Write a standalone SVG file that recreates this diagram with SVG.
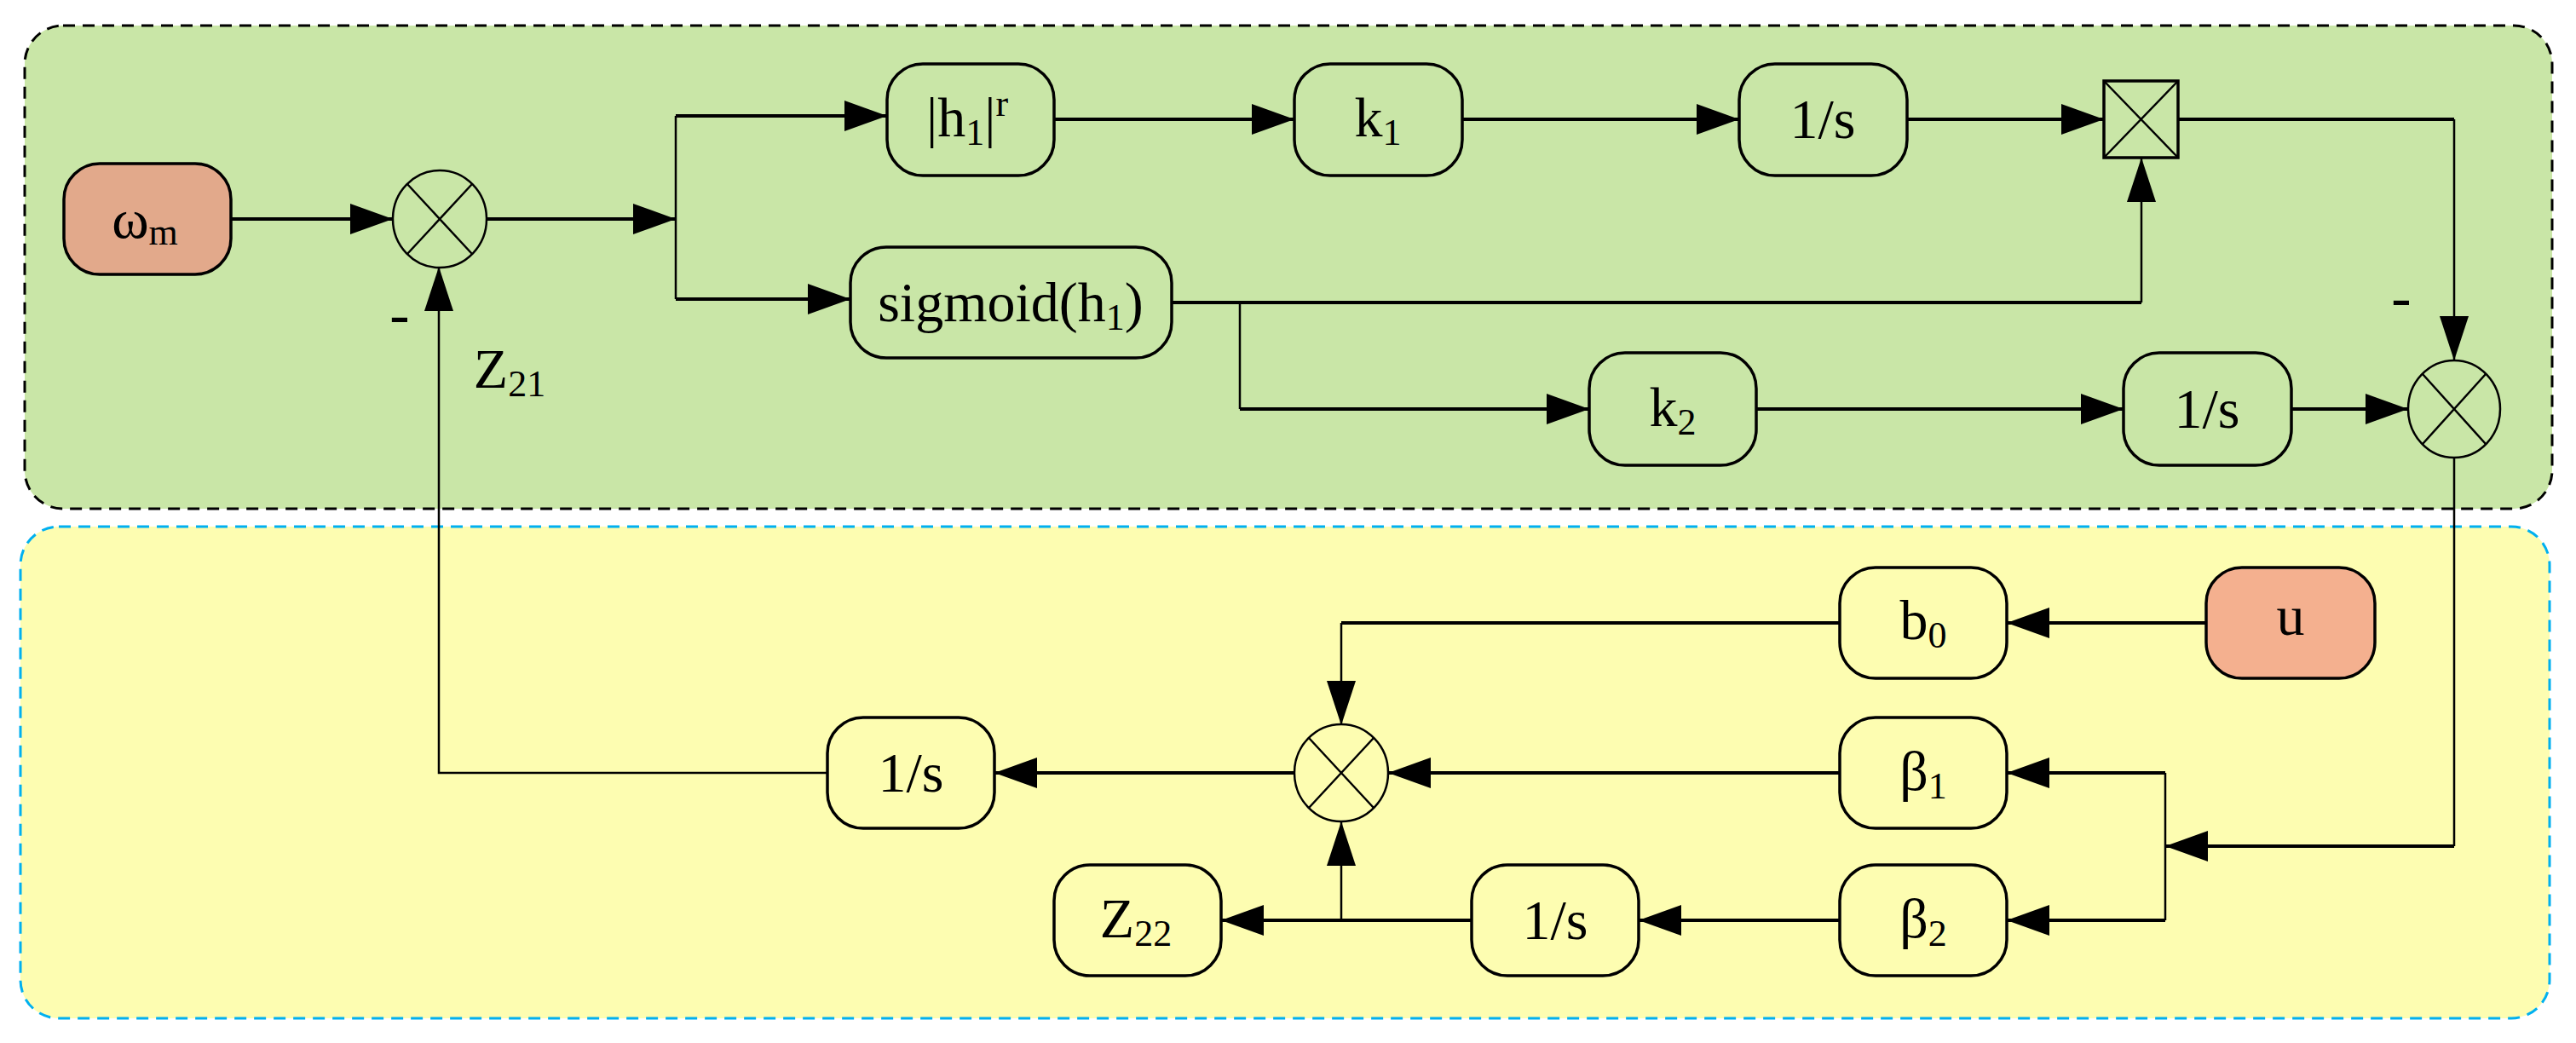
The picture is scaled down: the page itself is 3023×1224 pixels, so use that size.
<svg xmlns="http://www.w3.org/2000/svg" width="3023" height="1224" viewBox="0 0 3023 1224">
<defs>
<marker id="ah" viewBox="0 0 50 36" refX="50" refY="18" markerWidth="50" markerHeight="36" markerUnits="userSpaceOnUse" orient="auto"><path d="M0,0 L50,18 L0,36 Z" fill="#000"/></marker>
<marker id="av" viewBox="0 0 52 34" refX="52" refY="17" markerWidth="52" markerHeight="34" markerUnits="userSpaceOnUse" orient="auto"><path d="M0,0 L52,17 L0,34 Z" fill="#000"/></marker>
<style>
.b{fill:none;stroke:#000;stroke-width:3.5}
.c{fill:none;stroke:#000;stroke-width:4}
.t{fill:none;stroke:#000;stroke-width:2.5}
text{font-family:"Liberation Serif","Times New Roman",serif;font-size:66px;fill:#000;text-anchor:middle}
.s{font-size:44px}
</style>
</defs>
<rect x="29" y="30" width="2966" height="567" rx="45" fill="#c9e6a7" stroke="#000" stroke-width="3" stroke-dasharray="14 9"/>
<rect x="24" y="618" width="2968" height="577" rx="45" fill="#fdfdb1" stroke="#00b0f0" stroke-width="3" stroke-dasharray="14 9"/>

<g id="connectors">
<path class="c" d="M271,257 H461" marker-end="url(#ah)"/>
<path class="c" d="M570,257 H793" marker-end="url(#ah)"/>
<path class="t" d="M793,136 V351"/>
<path class="c" d="M793,136 H1041" marker-end="url(#ah)"/>
<path class="c" d="M793,351 H998" marker-end="url(#ah)"/>
<path class="c" d="M1237,140 H1519" marker-end="url(#ah)"/>
<path class="c" d="M1716,140 H2041" marker-end="url(#ah)"/>
<path class="c" d="M2238,140 H2469" marker-end="url(#ah)"/>
<path class="c" d="M1375,355 H2513"/>
<path class="t" d="M2513,355 V185" marker-end="url(#av)"/>
<path class="t" d="M1455,355 V480"/>
<path class="c" d="M1455,480 H1865" marker-end="url(#ah)"/>
<path class="c" d="M2061,480 H2492" marker-end="url(#ah)"/>
<path class="c" d="M2689,480 H2826" marker-end="url(#ah)"/>
<path class="c" d="M2556,140 H2880"/>
<path class="t" d="M2880,140 V423" marker-end="url(#av)"/>
<path class="t" d="M2880,537 V993"/>
<path class="c" d="M2880,993 H2541" marker-end="url(#ah)"/>
<path class="t" d="M2541,907 V1080"/>
<path class="c" d="M2541,907 H2355" marker-end="url(#ah)"/>
<path class="c" d="M2541,1080 H2355" marker-end="url(#ah)"/>
<path class="c" d="M2589,731 H2355" marker-end="url(#ah)"/>
<path class="c" d="M2159,731 H1574"/>
<path class="t" d="M1574,731 V851" marker-end="url(#av)"/>
<path class="c" d="M2159,907 H1629" marker-end="url(#ah)"/>
<path class="c" d="M2159,1080 H1923" marker-end="url(#ah)"/>
<path class="c" d="M1727,1080 H1433" marker-end="url(#ah)"/>
<path class="t" d="M1574,1080 V964" marker-end="url(#av)"/>
<path class="c" d="M1519,907 H1167" marker-end="url(#ah)"/>
<path class="t" d="M971,907 H515 V313" marker-end="url(#av)"/>
</g>

<g id="wm"><rect x="75" y="192" width="196" height="130" rx="42" fill="#e2a98b" class="b" style="fill:#e2a98b"/><text x="170" y="279">ω<tspan class="s" dy="8">m</tspan></text></g>
<g id="sum1"><ellipse cx="516" cy="257" rx="55" ry="57" fill="none" class="t"/><path class="t" d="M478,216 L554,298 M554,216 L478,298"/></g>
<text x="469" y="392" style="font-size:70px">-</text>
<text x="598" y="455">Z<tspan class="s" dy="10">21</tspan></text>
<g id="h1r"><rect x="1041" y="75" width="196" height="131" rx="42" class="b"/><text x="1135" y="160">|h<tspan class="s" dy="10">1</tspan><tspan dy="-10">|</tspan><tspan class="s" dy="-24">r</tspan></text></g>
<g id="sigmoid"><rect x="998" y="290" width="377" height="130" rx="42" class="b"/><text x="1186" y="377">sigmoid(h<tspan class="s" dy="10">1</tspan><tspan dy="-10">)</tspan></text></g>
<g id="k1"><rect x="1519" y="75" width="197" height="131" rx="42" class="b"/><text x="1617" y="160">k<tspan class="s" dy="10">1</tspan></text></g>
<g id="int1"><rect x="2041" y="75" width="197" height="131" rx="42" class="b"/><text x="2139" y="162">1/s</text></g>
<g id="mult"><rect x="2469" y="95" width="87" height="90" class="b"/><path class="t" d="M2469,95 L2556,185 M2556,95 L2469,185"/></g>
<text x="2818" y="372" style="font-size:70px">-</text>
<g id="k2"><rect x="1865" y="414" width="196" height="132" rx="42" class="b"/><text x="1963" y="500">k<tspan class="s" dy="10">2</tspan></text></g>
<g id="int2"><rect x="2492" y="414" width="197" height="132" rx="42" class="b"/><text x="2590" y="502">1/s</text></g>
<g id="sum2"><ellipse cx="2880" cy="480" rx="54" ry="57" fill="none" class="t"/><path class="t" d="M2843,439 L2917,521 M2917,439 L2843,521"/></g>
<g id="u"><rect x="2589" y="666" width="198" height="130" rx="42" class="b" style="fill:#f4b08f"/><text x="2688" y="745">u</text></g>
<g id="b0"><rect x="2159" y="666" width="196" height="130" rx="42" class="b"/><text x="2257" y="750">b<tspan class="s" dy="10">0</tspan></text></g>
<g id="beta1"><rect x="2159" y="842" width="196" height="130" rx="42" class="b"/><text x="2257" y="927">β<tspan class="s" dy="10">1</tspan></text></g>
<g id="beta2"><rect x="2159" y="1015" width="196" height="130" rx="42" class="b"/><text x="2257" y="1100">β<tspan class="s" dy="10">2</tspan></text></g>
<g id="sum3"><ellipse cx="1574" cy="907" rx="55" ry="57" fill="none" class="t"/><path class="t" d="M1536,866 L1612,948 M1612,866 L1536,948"/></g>
<g id="int3"><rect x="1727" y="1015" width="196" height="130" rx="42" class="b"/><text x="1825" y="1102">1/s</text></g>
<g id="z22"><rect x="1237" y="1015" width="196" height="130" rx="42" class="b"/><text x="1333" y="1100">Z<tspan class="s" dy="10">22</tspan></text></g>
<g id="int4"><rect x="971" y="842" width="196" height="130" rx="42" class="b"/><text x="1069" y="929">1/s</text></g>
</svg>
